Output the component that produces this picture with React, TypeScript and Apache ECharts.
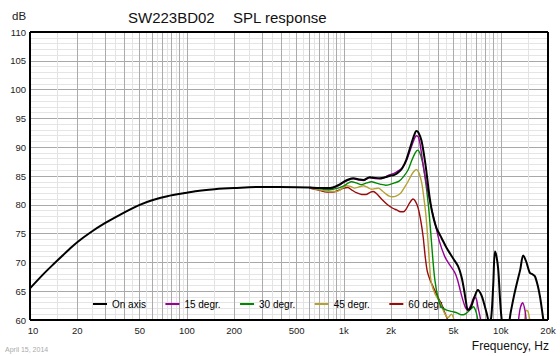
import React, { useEffect, useRef } from "react";
import * as echarts from "echarts";

const FONT = "'Liberation Sans', Arial, Helvetica, sans-serif";

const seriesNames = ["On axis", "15 degr.", "30 degr.", "45 degr.", "60 degr."];
const seriesColors = ["#000000", "#990099", "#008800", "#b3a233", "#990a0a"];

const freqOnAxis = [10, 12, 14, 16, 18, 20, 24, 30, 40, 50, 60, 75, 100, 120, 150, 200, 300, 500, 600, 700, 780, 850, 920, 1000, 1070, 1150, 1250, 1330, 1460, 1550, 1700, 1850, 1950, 2100, 2220, 2350, 2500, 2650, 2800, 2900, 2980, 3120, 3250, 3340, 3500, 3650, 3890, 4200, 4520, 5000, 5350, 5620, 5840, 6000, 6160, 6350, 6500, 6800, 7150, 7530, 7800, 8130, 8450, 8700, 8950, 9180, 9400, 9640, 9900, 10100, 10400, 11000, 11600, 12100, 12700, 13300, 13900, 14500, 15300, 16000, 16500, 17200, 17800, 18300, 18700, 19200, 20000];
const splOnAxis = [65.5, 67.8, 69.6, 71.1, 72.4, 73.5, 75.1, 76.8, 78.7, 80.0, 80.8, 81.5, 82.1, 82.45, 82.7, 82.9, 83.1, 83.05, 83.0, 82.9, 82.9, 83.0, 83.4, 84.0, 84.4, 84.6, 84.4, 84.3, 84.8, 84.7, 84.6, 84.8, 85.0, 85.2, 85.6, 86.3, 87.8, 90.0, 92.0, 92.8, 92.6, 91.2, 88.5, 86.3, 81.8, 78.8, 76.0, 74.2, 72.5, 70.6, 69.3, 67.5, 65.2, 63.2, 61.8, 61.9, 62.4, 64.0, 65.2, 64.3, 63.0, 61.2, 59.5, 60.5, 66.0, 71.9, 71.0, 68.7, 63.5, 60.5, 58.5, 58.5, 61.5, 64.0, 66.5, 68.7, 71.2, 70.2, 68.2, 67.9, 67.6, 66.0, 64.0, 61.8, 60.0, 58.5, 57.0];

const freq15 = [600, 700, 780, 850, 920, 1000, 1070, 1150, 1250, 1330, 1460, 1550, 1700, 1850, 1950, 2100, 2220, 2350, 2500, 2650, 2800, 2900, 2980, 3050, 3200, 3340, 3540, 3800, 4070, 4400, 4720, 5080, 5300, 5500, 5730, 5950, 6160, 6450, 6800, 7000, 7150, 7350, 7500, 7700, 8500, 12000, 12800, 13300, 13800, 14300, 14600, 15500];
const spl15 = [83.0, 82.9, 82.8, 82.9, 83.3, 83.9, 84.3, 84.5, 84.3, 84.2, 84.7, 84.6, 84.5, 84.9, 85.2, 85.5, 85.9, 86.4, 87.6, 89.5, 91.3, 92.0, 91.8, 90.8, 87.0, 84.0, 80.5, 77.0, 73.6, 71.0, 69.6, 68.3, 67.0, 65.3, 63.5, 62.2, 61.7, 62.6, 64.0, 63.6, 62.3, 60.8, 59.5, 58.5, 56, 56, 59, 62.0, 63.0, 61.5, 59.5, 56];

const freq30 = [600, 700, 780, 850, 920, 1000, 1070, 1120, 1200, 1290, 1400, 1500, 1600, 1700, 1850, 1950, 2100, 2250, 2400, 2560, 2700, 2850, 2950, 3050, 3170, 3300, 3440, 3560, 3680, 3800, 3970, 4170, 4520, 5000, 5300, 5620, 5900, 6160, 6500, 6700, 6900, 7050, 7200, 7400];
const spl30 = [83.0, 82.8, 82.6, 82.7, 82.9, 83.3, 83.8, 84.0, 83.8, 83.5, 83.8, 84.0, 83.8, 83.6, 83.4, 83.5, 83.8, 84.1, 84.9, 86.0, 87.6, 89.0, 89.5, 89.0, 87.4, 84.5, 80.5, 76.0, 71.0, 67.0, 64.0, 62.3, 61.7, 61.4, 61.2, 60.9, 61.0, 61.4, 62.0, 62.3, 61.7, 60.8, 59.5, 58.0];

const freq45 = [600, 700, 800, 900, 970, 1040, 1100, 1170, 1250, 1330, 1420, 1500, 1580, 1660, 1760, 1870, 1950, 2040, 2150, 2300, 2420, 2560, 2700, 2820, 2900, 2980, 3060, 3150, 3260, 3340, 3440, 3520, 3600, 3800, 4070, 4250, 4380, 4600, 4850, 5100, 5400, 13800, 14200, 14500, 14900, 15300, 15800];
const spl45 = [83.0, 82.6, 82.3, 82.3, 82.8, 83.3, 83.2, 82.9, 83.1, 83.3, 83.0, 82.7, 82.8, 82.9, 82.4, 81.8, 81.5, 81.4, 81.5, 82.0, 82.9, 84.0, 85.2, 85.9, 86.1, 85.8, 85.0, 83.5, 80.5, 78.0, 73.5, 69.5, 66.6, 64.6, 63.2, 62.0, 61.2, 60.4, 61.0, 59.5, 57, 57, 60, 61.7, 61.5, 60, 57];

const freq60 = [600, 700, 780, 850, 940, 1000, 1060, 1120, 1200, 1300, 1390, 1480, 1540, 1620, 1750, 1900, 2050, 2170, 2300, 2400, 2500, 2620, 2760, 2860, 2970, 3080, 3200, 3300, 3400, 3540, 3700, 3970, 4170, 4380, 4600, 4800];
const spl60 = [82.9, 82.5, 82.2, 82.2, 82.6, 82.9, 83.0, 82.6, 82.1, 81.8, 81.8, 82.2, 82.3, 81.9, 80.9, 80.0, 79.4, 79.1, 78.8, 78.8, 79.3, 80.3, 81.0, 80.6, 79.5, 77.5, 74.5, 71.0, 68.5, 67.0, 65.8, 64.0, 62.9, 61.4, 60.0, 59.0];

const seriesFreqs = [freqOnAxis, freq15, freq30, freq45, freq60];
const seriesSpl = [splOnAxis, spl15, spl30, spl45, spl60];

const majorGridFreqs = [20, 30, 40, 50, 60, 70, 80, 90, 100, 200, 300, 400, 500, 600, 700, 800, 900, 1000, 2000, 3000, 4000, 5000, 6000, 7000, 8000, 9000, 10000];
const minorGridFreqs = [15, 25, 35, 45, 55, 65, 75, 85, 95, 150, 250, 350, 450, 550, 650, 750, 850, 950, 1500, 2500, 3500, 4500, 5500, 6500, 7500, 8500, 9500, 15000];

const tickFreqs = [10, 20, 50, 100, 200, 500, 1000, 2000, 5000, 10000, 20000];
const tickLabels = ["10", "20", "50", "100", "200", "500", "1k", "2k", "5k", "10k", "20k"];

const X_MIN = 10;
const X_MAX = 20000;
const Y_MIN = 60;
const Y_MAX = 110;

export default function App() {
  const ref = useRef<HTMLDivElement>(null);

  useEffect(() => {
    document.body.style.margin = "0";
    const chart = echarts.init(ref.current!, null, { renderer: "svg" });

    const labelStyle = (f: number) => {
      const i = tickFreqs.indexOf(f);
      if (i < 0) return { show: false };
      return {
        show: true,
        position: "start",
        distance: 5,
        formatter: tickLabels[i],
        fontSize: 9.5,
        fontFamily: FONT,
        color: "#222",
        padding: f === X_MIN ? [0, 0, 0, 6] : 0,
      };
    };

    const gridData: any[] = [
      ...minorGridFreqs.map((f) => ({
        xAxis: f,
        lineStyle: { color: "#e3e3e3", width: 1, type: "solid" },
        label: { show: false },
      })),
      ...majorGridFreqs.map((f) => ({
        xAxis: f,
        lineStyle: { color: "#ababab", width: 1, type: "solid" },
        label: labelStyle(f),
      })),
    ];

    const borderData: any[] = [
      { xAxis: X_MIN, label: labelStyle(X_MIN) },
      { xAxis: X_MAX, label: labelStyle(X_MAX) },
      { yAxis: Y_MIN, label: { show: false } },
      { yAxis: Y_MAX, label: { show: false } },
    ];

    const lineSeries = seriesNames.map((name, k) => ({
      type: "line",
      name,
      data: seriesFreqs[k].map((f, i) => [f, seriesSpl[k][i]]),
      symbol: "none",
      showSymbol: false,
      smooth: 0.3,
      z: k === 0 ? 8 : 7 - k,
      lineStyle: { color: seriesColors[k], width: k === 0 ? 2 : 1.4 },
      itemStyle: { color: seriesColors[k] },
      emphasis: { disabled: true },
    }));

    chart.setOption({
      animation: false,
      backgroundColor: "#ffffff",
      grid: { left: 30, right: 12, top: 32, bottom: 36, show: false },
      xAxis: {
        type: "log",
        logBase: 10,
        min: X_MIN,
        max: X_MAX,
        axisLine: { show: false },
        axisTick: { show: false },
        axisLabel: { show: false },
        splitLine: { show: false },
      },
      yAxis: {
        type: "value",
        min: Y_MIN,
        max: Y_MAX,
        interval: 5,
        axisLine: { show: false },
        axisTick: { show: false },
        axisLabel: { fontSize: 9.5, fontFamily: FONT, color: "#222", margin: 4 },
        splitLine: { show: true, lineStyle: { color: "#a8a8a8", width: 1 } },
        minorTick: { show: false, splitNumber: 5 },
        minorSplitLine: { show: true, lineStyle: { color: "#e5e5e5", width: 1 } },
      },
      legend: {
        data: seriesNames,
        left: 93,
        top: 299,
        padding: 0,
        icon: "rect",
        itemWidth: 14,
        itemHeight: 2,
        itemGap: 19.5,
        textStyle: { fontSize: 10, fontFamily: FONT, color: "#000", width: 37 },
        selectedMode: false,
      },
      graphic: [
        { type: "text", left: 12, top: 10, style: { text: "dB", fontSize: 11.5, fontFamily: FONT, fill: "#222" } },
        { type: "text", x: 128, y: 17.7, style: { text: "SW223BD02", fontSize: 15, fontFamily: FONT, fill: "#111", textVerticalAlign: "middle" } },
        { type: "text", x: 233, y: 17.7, style: { text: "SPL response", fontSize: 15, fontFamily: FONT, fill: "#111", textVerticalAlign: "middle" } },
        { type: "text", x: 549, y: 346, style: { text: "Frequency, Hz", fontSize: 12, fontFamily: FONT, fill: "#111", textAlign: "right", textVerticalAlign: "middle" } },
        { type: "text", x: 5, y: 349, style: { text: "April 15, 2014", fontSize: 7, fontFamily: FONT, fill: "#aaaaaa", textVerticalAlign: "middle" } },
      ],
      series: [
        {
          type: "line",
          name: "grid",
          data: [],
          silent: true,
          z: 1,
          markLine: {
            silent: true,
            z: 1,
            symbol: ["none", "none"],
            animation: false,
            label: { show: false },
            emphasis: { disabled: true },
            data: gridData,
          },
        },
        ...lineSeries,
        {
          type: "line",
          name: "border",
          data: [],
          silent: true,
          z: 20,
          markLine: {
            silent: true,
            z: 20,
            symbol: ["none", "none"],
            animation: false,
            lineStyle: { color: "#000", width: 2, type: "solid" },
            label: { show: false },
            emphasis: { disabled: true },
            data: borderData,
          },
        },
      ],
    });

    return () => chart.dispose();
  }, []);

  return <div ref={ref} style={{ width: 560, height: 356 }} />;
}
